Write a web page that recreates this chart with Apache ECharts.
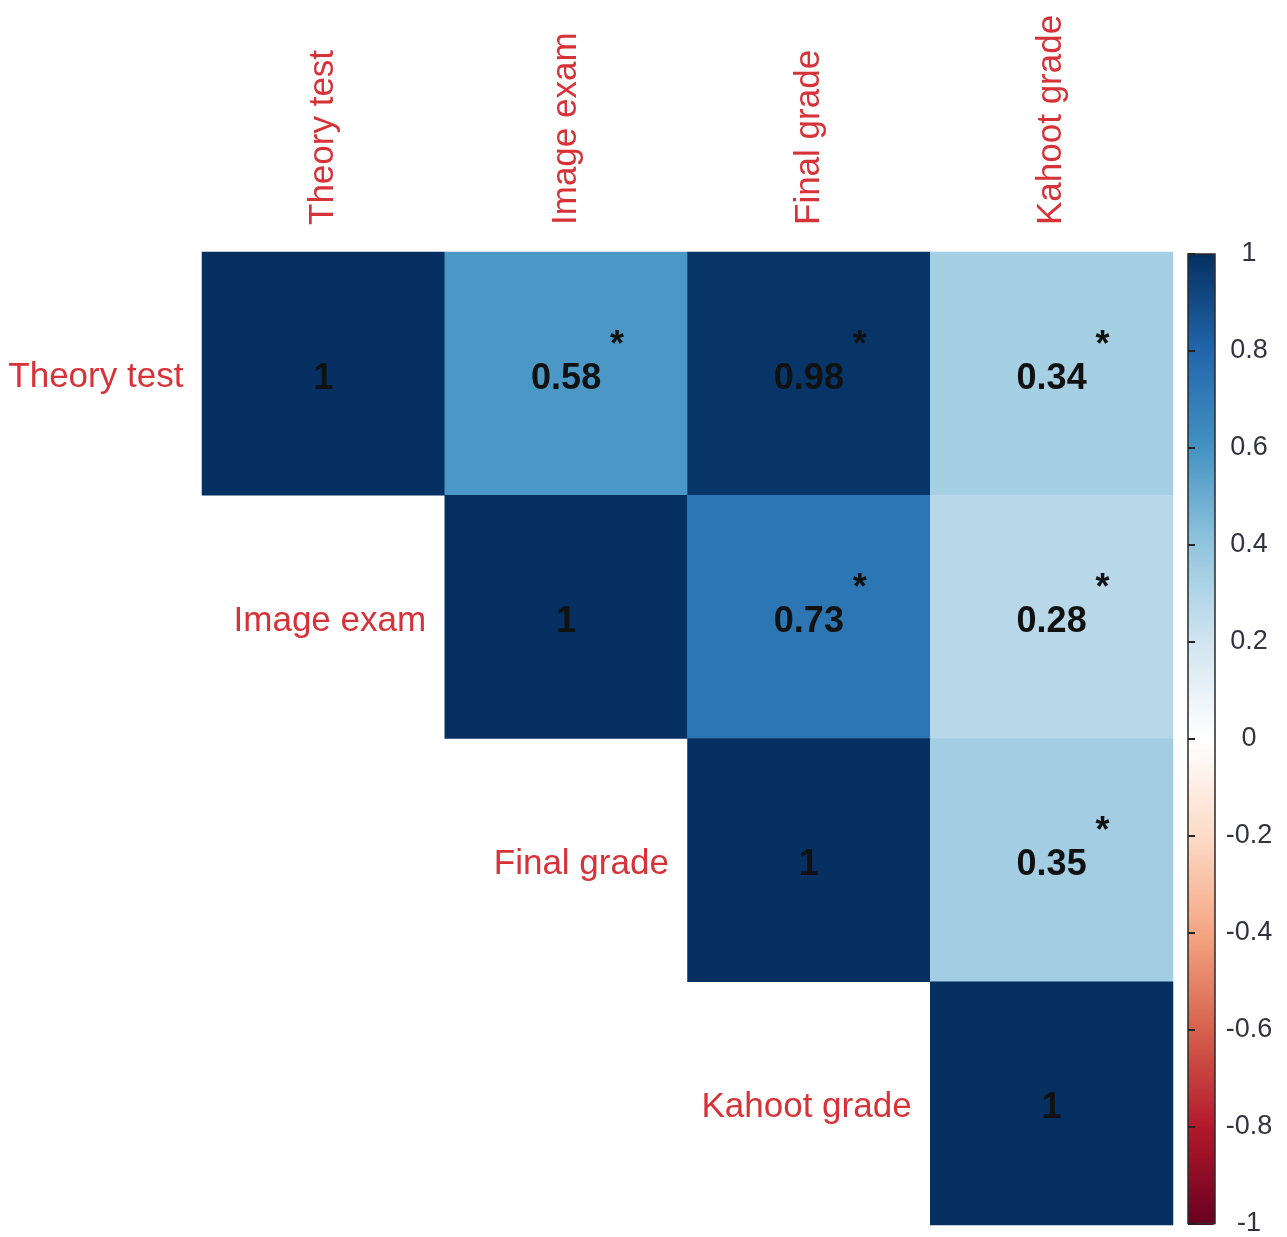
<!DOCTYPE html>
<html>
<head>
<meta charset="utf-8">
<title>Correlation matrix</title>
<script src="https://cdn.jsdelivr.net/npm/echarts@6/dist/echarts.min.js"></script>
<style>
  html, body { margin: 0; padding: 0; background: #ffffff; }
  #chart { width: 1287px; height: 1237px; }
</style>
</head>
<body>
<div id="chart"></div>
<script>
// Variables compared in the matrix
const variables = ['Theory test', 'Image exam', 'Final grade', 'Kahoot grade'];

// Pearson correlations, upper triangle (row = first variable, column = second)
const corrRow0 = [1, 0.58, 0.98, 0.34];
const corrRow1 = [null, 1, 0.73, 0.28];
const corrRow2 = [null, null, 1, 0.35];
const corrRow3 = [null, null, null, 1];

// Significance flags (p < 0.05) for the same cells
const sigRow0 = [false, true, true, true];
const sigRow1 = [false, false, true, true];
const sigRow2 = [false, false, false, true];
const sigRow3 = [false, false, false, false];

// Colour bar tick values
const barTicks = [-1, -0.8, -0.6, -0.4, -0.2, 0, 0.2, 0.4, 0.6, 0.8, 1];

// RdBu diverging palette, from -1 to 1
const palette = ['#67001F', '#B2182B', '#D6604D', '#F4A582', '#FDDBC7', '#FFFFFF',
                 '#D1E5F0', '#92C5DE', '#4393C3', '#2166AC', '#053061'];

const corrRows = [corrRow0, corrRow1, corrRow2, corrRow3];
const sigRows = [sigRow0, sigRow1, sigRow2, sigRow3];

const cells = [];
const stars = [];
corrRows.forEach((row, r) => {
  row.forEach((v, c) => {
    if (v !== null) cells.push([c, r, v]);
    if (sigRows[r][c]) stars.push([c, r]);
  });
});
const diagLabels = variables.map((name, i) => [i, i, name]);

const FONT = "'Liberation Sans', Arial, sans-serif";
const RED = '#d63238';

const chart = echarts.init(document.getElementById('chart'), null, { renderer: 'canvas' });

chart.setOption({
  backgroundColor: '#ffffff',
  animation: false,
  grid: [
    { left: 202, top: 252, width: 971, height: 973, containLabel: false },
    { left: 1188, top: 254, width: 27, height: 971, show: true, z: 10,
      borderColor: '#2a2a2a', borderWidth: 1.5, backgroundColor: 'transparent' }
  ],
  xAxis: [
    {
      gridIndex: 0, type: 'category', data: variables, position: 'top',
      axisLine: { show: false }, axisTick: { show: false }, splitLine: { show: false },
      axisLabel: { rotate: -90, margin: 27, color: RED, fontSize: 35, fontFamily: FONT, interval: 0 }
    },
    { gridIndex: 1, type: 'value', show: false, min: 0, max: 1 }
  ],
  yAxis: [
    {
      gridIndex: 0, type: 'category', data: variables, inverse: true,
      axisLine: { show: false }, axisTick: { show: false }, axisLabel: { show: false },
      splitLine: { show: false }
    },
    {
      gridIndex: 1, type: 'value', position: 'right', z: 10,
      min: barTicks[0], max: barTicks[barTicks.length - 1], interval: 0.2,
      axisLine: { show: false },
      axisTick: { show: true, inside: false, length: 7, lineStyle: { color: '#222', width: 2 } },
      splitLine: { show: false },
      axisLabel: {
        margin: 34, align: 'center', color: '#333340', fontSize: 27, fontFamily: FONT,
        formatter: v => String(Math.round(v * 10) / 10)
      }
    }
  ],
  visualMap: {
    type: 'continuous', seriesIndex: 0, min: -1, max: 1,
    calculable: false, text: null, padding: 0, z: 2,
    left: 1188, top: 254, itemWidth: 27, itemHeight: 971,
    inRange: { color: palette }
  },
  series: [
    {
      type: 'heatmap', xAxisIndex: 0, yAxisIndex: 0, data: cells,
      itemStyle: { borderWidth: 0 },
      label: {
        show: true, color: '#111', fontSize: 36, fontWeight: 'bold', fontFamily: FONT,
        offset: [0, 5],
        formatter: p => String(p.value[2])
      },
      emphasis: { disabled: true }
    },
    {
      type: 'scatter', xAxisIndex: 0, yAxisIndex: 0, data: stars,
      symbolSize: 0, silent: true, z: 5,
      itemStyle: { opacity: 1 },
      label: {
        show: true, formatter: '*', color: '#111', fontSize: 36, fontWeight: 'bold',
        fontFamily: FONT, offset: [51, -28]
      }
    },
    {
      type: 'scatter', xAxisIndex: 0, yAxisIndex: 0, data: diagLabels,
      symbolSize: 0, silent: true, z: 5,
      itemStyle: { opacity: 1 },
      label: {
        show: true, position: 'left', distance: 140, color: RED, fontSize: 35,
        fontFamily: FONT, offset: [0, 4],
        formatter: p => p.value[2]
      }
    }
  ]
});
</script>
</body>
</html>
